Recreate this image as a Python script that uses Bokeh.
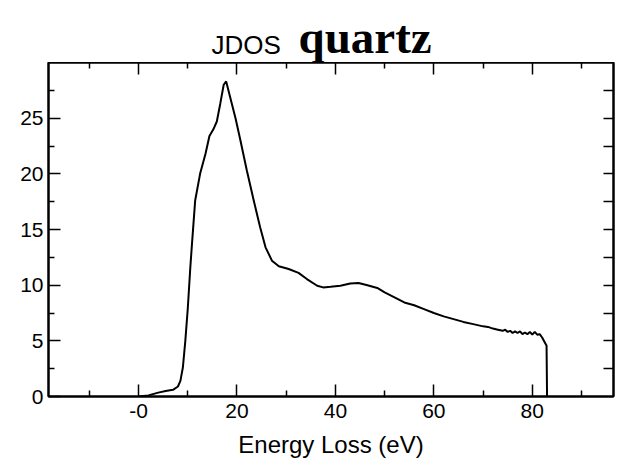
from bokeh.plotting import figure
from bokeh.layouts import column
from bokeh.models import FixedTicker, LinearAxis, Range1d
from bokeh.core.properties import value
from bokeh.embed import file_html
from bokeh.resources import INLINE

# Data (energy loss in eV, JDOS value)
energy = [0, 2, 4, 5.5, 7, 8, 8.5, 9, 9.5, 10, 10.5, 10.9, 11.5, 12.5, 13.6,
          14.4, 15.2, 15.9, 16.6, 17.3, 17.8, 18.6, 19.7, 20.7, 22.0, 23.4,
          24.7, 25.8, 27.1, 28.5, 30.5, 32.5, 34.2, 36.3, 37.5, 39, 41, 43,
          44.7, 46.5, 48.5, 50, 51.8, 54, 56, 58, 60, 62, 64, 66, 68, 70, 71,
          72, 73, 74, 74.5, 75, 75.5, 76, 76.5, 77, 77.5, 78, 78.5, 79, 79.5,
          80, 80.5, 81, 81.5, 82, 82.3, 82.9, 83.0, 83.2]
jdos = [0.0, 0.1, 0.35, 0.5, 0.6, 0.9, 1.4, 2.6, 5.0, 7.9, 11.5, 14.0, 17.6,
        20.0, 21.8, 23.4, 24.0, 24.7, 26.3, 28.0, 28.3, 26.9, 25.0, 23.0, 20.3,
        17.6, 15.2, 13.4, 12.2, 11.7, 11.45, 11.1, 10.55, 9.95, 9.8, 9.85,
        9.95, 10.15, 10.2, 10.0, 9.75, 9.35, 8.95, 8.45, 8.2, 7.85, 7.5, 7.2,
        6.95, 6.7, 6.5, 6.3, 6.25, 6.1, 6.0, 5.9, 6.0, 5.8, 5.9, 5.7, 5.85,
        5.7, 5.85, 5.6, 5.75, 5.6, 5.8, 5.55, 5.8, 5.55, 5.6, 5.3, 5.05, 4.55,
        0.0, 0.0]

x_major = [0, 20, 40, 60, 80]
x_minor = [-10, 10, 30, 50, 70, 90]
x_labels = {0: "-0"}
y_major = [0, 5, 10, 15, 20, 25]
y_minor = [2.5, 7.5, 12.5, 17.5, 22.5, 27.5]
y_right = [2.5, 5, 7.5, 10, 12.5, 15, 17.5, 20, 22.5, 25, 27.5]
title_small = "JDOS"
title_big = "quartz"

SANS = "Liberation Sans"

# ---- title strip ----
t = figure(width=617, height=62, output_backend="svg", toolbar_location=None,
           x_range=Range1d(0, 617), y_range=Range1d(0, 62),
           x_axis_location=None, y_axis_location=None,
           min_border_left=0, min_border_right=0, min_border_top=0,
           min_border_bottom=0)
t.grid.visible = False
t.outline_line_color = None
t.text(x=[178], y=[18], text=[title_small], text_font=value(SANS),
       text_font_size="26px", text_color="black", text_baseline="middle")
t.text(x=[273], y=[26], text=[title_big], text_font=value("Liberation Serif"),
       text_font_style="bold", text_font_size="47px", text_color="black",
       text_baseline="middle")

# ---- main plot ----
p = figure(width=617, height=404, output_backend="svg", toolbar_location=None,
           x_range=Range1d(-18.3, 96.5), y_range=Range1d(0, 30),
           x_axis_location=None, y_axis_location=None,
           min_border_left=48, min_border_right=4, min_border_top=0,
           min_border_bottom=70)
p.grid.visible = False
p.outline_line_color = "black"
p.outline_line_width = 2
p.background_fill_color = "white"
p.border_fill_color = "white"

p.line(energy, jdos, line_color="black", line_width=2)


def style(ax, labels=True):
    ax.axis_line_color = "black"
    ax.axis_line_width = 2
    ax.major_tick_line_color = "black"
    ax.minor_tick_line_color = "black"
    ax.major_tick_line_width = 1.5
    ax.minor_tick_line_width = 1.5
    ax.major_tick_in = 12
    ax.major_tick_out = 0
    ax.minor_tick_in = 6
    ax.minor_tick_out = 0
    if labels:
        ax.major_label_text_font = SANS
        ax.major_label_text_font_size = "21px"
        ax.major_label_text_color = "black"
    else:
        ax.major_label_standoff = 0
        ax.major_label_text_font_size = "1px"
        ax.major_label_text_color = None


bottom = LinearAxis(ticker=FixedTicker(ticks=x_major, minor_ticks=x_minor),
                    axis_label="Energy Loss (eV)")
bottom.major_label_overrides = x_labels
style(bottom)
bottom.major_label_standoff = 7
bottom.axis_label_text_font = SANS
bottom.axis_label_text_font_style = "normal"
bottom.axis_label_text_font_size = "24px"
bottom.axis_label_text_color = "black"
bottom.axis_label_standoff = 10
p.add_layout(bottom, "below")

top = LinearAxis(ticker=FixedTicker(ticks=x_major, minor_ticks=x_minor))
style(top, labels=False)
top.major_label_overrides = {k: "" for k in x_major}
p.add_layout(top, "above")

left = LinearAxis(ticker=FixedTicker(ticks=y_major, minor_ticks=y_minor))
style(left)
left.major_label_standoff = 5
p.add_layout(left, "left")

right = LinearAxis(ticker=FixedTicker(ticks=y_right, minor_ticks=[]))
style(right, labels=False)
right.major_label_overrides = {k: "" for k in y_right}
right.major_tick_in = 10
p.add_layout(right, "right")

layout = column(t, p, spacing=0)
open("out.html", "w").write(file_html(layout, INLINE))
